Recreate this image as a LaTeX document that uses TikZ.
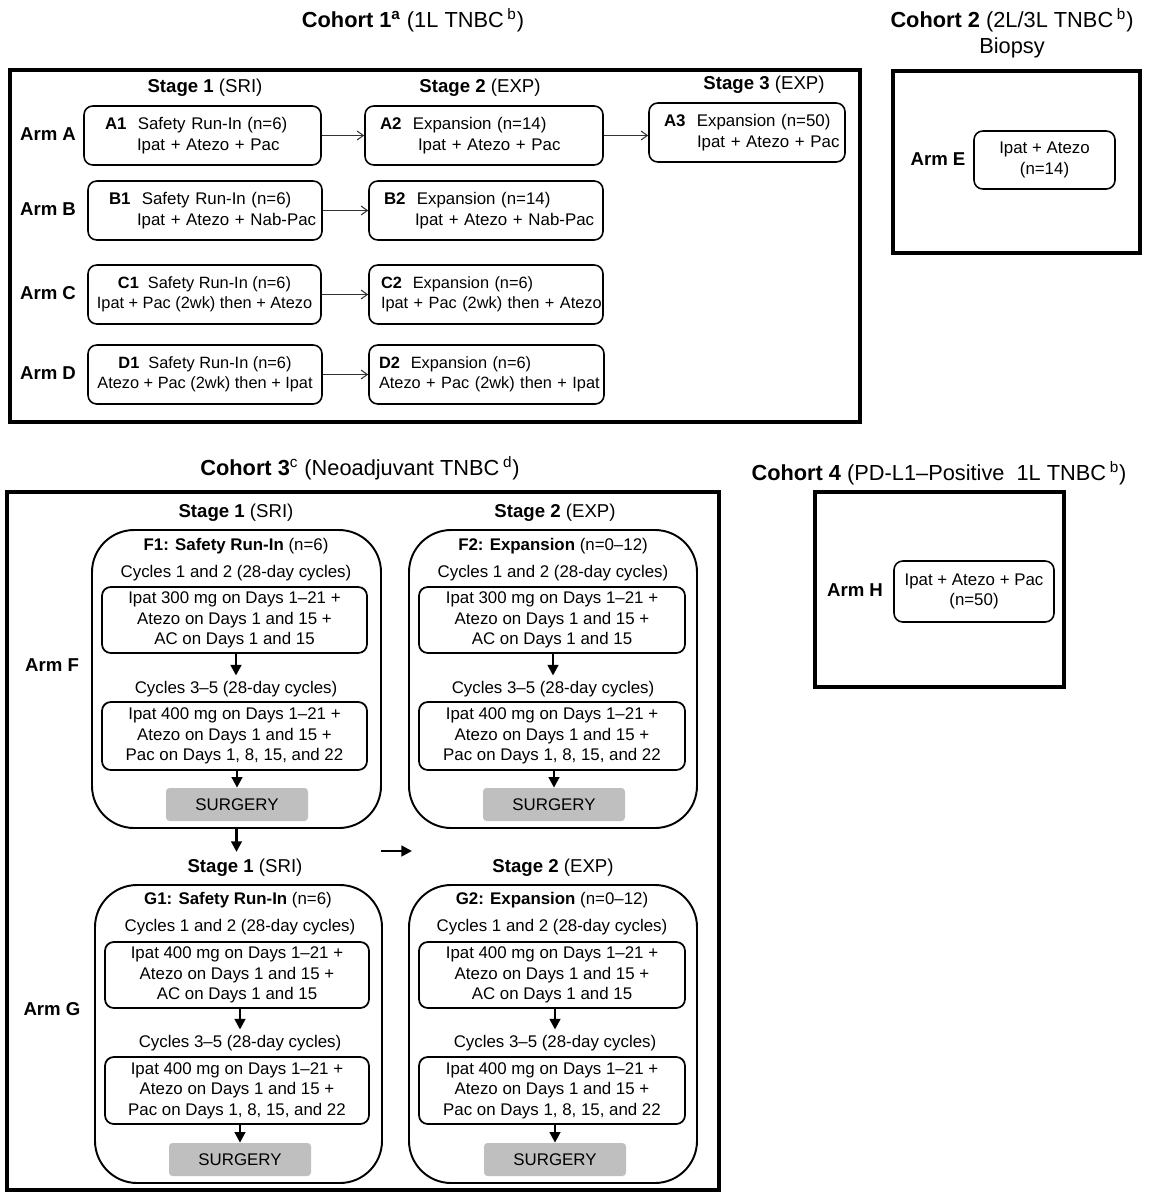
\documentclass[tikz,border=0pt]{standalone}
\usepackage{fontspec}
\setmainfont{Liberation Sans}
\usetikzlibrary{arrows.meta}
\definecolor{surggray}{HTML}{BFBFBF}
\def\u{0.02cm}
\begin{document}
\begin{tikzpicture}[x=0.02cm,y=-0.02cm,
  every node/.style={font=\fontsize{9.6}{11.6}\selectfont, inner sep=0pt, align=center},
  ttl/.style={font=\fontsize{12.4}{14}\selectfont},
  stagelbl/.style={font=\fontsize{10.6}{12}\selectfont},
  arm/.style={font=\fontsize{10.6}{12}\selectfont\bfseries},
  cohortbox/.style={draw, line width=2.2pt},
  sbox/.style={draw, rounded corners=5pt, line width=0.9pt},
  lbox/.style={sbox, align=left, inner ysep=0pt},
  bigbox/.style={draw, rounded corners=24pt, line width=1.1pt},
  inbox/.style={draw, rounded corners=5pt, line width=1pt},
  surg/.style={fill=surggray, rounded corners=2pt},
  thinarr/.style={-{Straight Barb[length=3.5pt,width=5pt]}, line width=0.6pt, draw=black!80},
  thkarr/.style={-{Triangle[length=6pt,width=6pt]}, line width=1.4pt},
]
\useasboundingbox (0,0) rectangle (1152,1193);

% ---------------- Cohort 1 ----------------
\node[ttl] (t1) at (413,20) {\textbf{Cohort 1}\textsuperscript{\textbf{a}} (1L TNBC\,\textsuperscript{b})};
\node[cohortbox, minimum width=850*\u, minimum height=352*\u] (c1) at (435,246) {};
\node[stagelbl] (s11) at (205,88) {\textbf{Stage 1} (SRI)};
\node[stagelbl] (s12) at (480,88) {\textbf{Stage 2} (EXP)};
\node[stagelbl] (s13) at (764,85) {\textbf{Stage 3} (EXP)};
\node[arm] (armA) at (48,134) {Arm A};
\node[arm] (armB) at (48,209) {Arm B};
\node[arm] (armC) at (48,293) {Arm C};
\node[arm] (armD) at (48,373) {Arm D};

\node[lbox, minimum width=237*\u, minimum height=59*\u, text width=3.90cm, inner xsep=0.42cm] (A1) at (202.5,135.5)
  {\mbox{\textbf{A1}\ \ Safety Run-In (n=6)}\\\mbox{\hspace*{0.64cm}Ipat + Atezo + Pac}};
\node[lbox, minimum width=238*\u, minimum height=59*\u, text width=4.16cm, inner xsep=0.30cm] (A2) at (484,135.5)
  {\mbox{\textbf{A2}\ \ Expansion (n=14)}\\\mbox{\hspace*{0.76cm}Ipat + Atezo + Pac}};
\node[lbox, minimum width=196*\u, minimum height=59*\u, text width=3.32cm, inner xsep=0.30cm] (A3) at (747,132.5)
  {\mbox{\textbf{A3}\ \ Expansion (n=50)}\\\mbox{\hspace*{0.66cm}Ipat + Atezo + Pac}};
\node[lbox, minimum width=234*\u, minimum height=59*\u, text width=3.84cm, inner xsep=0.42cm] (B1) at (205,210.5)
  {\mbox{\textbf{B1}\ \ Safety Run-In (n=6)}\\\mbox{\hspace*{0.56cm}Ipat + Atezo + Nab-Pac}};
\node[lbox, minimum width=234*\u, minimum height=59*\u, text width=4.08cm, inner xsep=0.30cm] (B2) at (486,210.5)
  {\mbox{\textbf{B2}\ \ Expansion (n=14)}\\\mbox{\hspace*{0.62cm}Ipat + Atezo + Nab-Pac}};
\node[sbox, minimum width=233*\u, minimum height=59*\u, font=\fontsize{9.3}{11.6}\selectfont] (C1) at (204.5,294.5)
  {\textbf{C1}\ \ Safety Run-In (n=6)\\Ipat + Pac (2wk) then + Atezo};
\node[lbox, minimum width=234*\u, minimum height=59*\u, text width=4.20cm, inner xsep=0.24cm, font=\fontsize{9.3}{11.6}\selectfont] (C2) at (486,294.5)
  {\mbox{\textbf{C2}\ \ Expansion (n=6)}\\\mbox{Ipat + Pac (2wk) then + Atezo}};
\node[sbox, minimum width=234*\u, minimum height=59*\u, font=\fontsize{9.3}{11.6}\selectfont] (D1) at (205,374.5)
  {\textbf{D1}\ \ Safety Run-In (n=6)\\Atezo + Pac (2wk) then + Ipat};
\node[lbox, minimum width=235*\u, minimum height=59*\u, text width=4.30cm, inner xsep=0.20cm, font=\fontsize{9.3}{11.6}\selectfont] (D2) at (486.5,374.5)
  {\mbox{\textbf{D2}\ \ Expansion (n=6)}\\\mbox{Atezo + Pac (2wk) then + Ipat}};

\draw[thinarr] (A1.east) -- (A2.west);
\draw[thinarr] (A2.east) -- (A2.east -| A3.west);
\draw[thinarr] (B1.east) -- (B2.west);
\draw[thinarr] (C1.east) -- (C2.west);
\draw[thinarr] (D1.east) -- (D2.west);

% ---------------- Cohort 2 ----------------
\node[ttl] (t2) at (1012,20) {\textbf{Cohort 2} (2L/3L TNBC\,\textsuperscript{b})};
\node[ttl] (t2b) at (1012,48) {Biopsy};
\node[cohortbox, minimum width=247*\u, minimum height=182*\u] (c2) at (1016.5,162) {};
\node[arm] (armE) at (938,159) {Arm E};
\node[sbox, minimum width=141*\u, minimum height=58*\u] (E) at (1044.5,160) {Ipat + Atezo\\(n=14)};

% ---------------- Cohort 3 ----------------
\node[ttl] (t3) at (360,468) {\textbf{Cohort 3}\textsuperscript{c} (Neoadjuvant TNBC\,\textsuperscript{d})};
\node[cohortbox, minimum width=712*\u, minimum height=698*\u] (c3) at (363,841) {};
\node[stagelbl] (s31) at (236,513) {\textbf{Stage 1} (SRI)};
\node[stagelbl] (s32) at (555,513) {\textbf{Stage 2} (EXP)};
\node[arm] (armF) at (52,665) {Arm F};

\node[bigbox, minimum width=289*\u, minimum height=298*\u] (F1) at (236.5,679) {};
\node[bigbox, minimum width=288*\u, minimum height=298*\u] (F2) at (553,679) {};

\node (F1t) at (236,546) {\textbf{F1: Safety Run-In} (n=6)};
\node (F1c1) at (236,573) {Cycles 1 and 2 (28-day cycles)};
\node[inbox, minimum width=265*\u, minimum height=66*\u] (F1a) at (234.5,620) {Ipat 300 mg on Days 1--21 +\\Atezo on Days 1 and 15 +\\AC on Days 1 and 15};
\node (F1c2) at (236,689) {Cycles 3--5 (28-day cycles)};
\node[inbox, minimum width=265*\u, minimum height=68*\u] (F1b) at (234.5,736) {Ipat 400 mg on Days 1--21 +\\Atezo on Days 1 and 15 +\\Pac on Days 1, 8, 15, and 22};
\node[surg, minimum width=142*\u, minimum height=33*\u] (F1s) at (237,804.5) {SURGERY};

\node (F2t) at (553,546) {\textbf{F2: Expansion} (n=0--12)};
\node (F2c1) at (553,573) {Cycles 1 and 2 (28-day cycles)};
\node[inbox, minimum width=266*\u, minimum height=66*\u] (F2a) at (552,620) {Ipat 300 mg on Days 1--21 +\\Atezo on Days 1 and 15 +\\AC on Days 1 and 15};
\node (F2c2) at (553,689) {Cycles 3--5 (28-day cycles)};
\node[inbox, minimum width=266*\u, minimum height=68*\u] (F2b) at (552,736) {Ipat 400 mg on Days 1--21 +\\Atezo on Days 1 and 15 +\\Pac on Days 1, 8, 15, and 22};
\node[surg, minimum width=142*\u, minimum height=33*\u] (F2s) at (554,804.5) {SURGERY};

\draw[thkarr] (F1a.south -| F1c2.north) -- ([yshift=3pt]F1c2.north);
\draw[thkarr] (F1b.south -| F1s.north) -- (F1s.north);
\draw[thkarr] (F2a.south -| F2c2.north) -- ([yshift=3pt]F2c2.north);
\draw[thkarr] (F2b.south -| F2s.north) -- (F2s.north);

\node[stagelbl] (s41) at (245,868) {\textbf{Stage 1} (SRI)};
\node[stagelbl] (s42) at (553,868) {\textbf{Stage 2} (EXP)};
\draw[thkarr] (F1.south) -- ([yshift=4pt]F1.south |- s41.north);
\coordinate (fa1) at (381,851);
\coordinate (fa2) at (412,851);
\draw[thkarr] (fa1) -- (fa2);

\node[arm] (armG) at (52,1009) {Arm G};
\node[bigbox, minimum width=287*\u, minimum height=298*\u] (G1) at (238.5,1034) {};
\node[bigbox, minimum width=288*\u, minimum height=298*\u] (G2) at (553,1034) {};

\node (G1t) at (238,900) {\textbf{G1: Safety Run-In} (n=6)};
\node (G1c1) at (240,927) {Cycles 1 and 2 (28-day cycles)};
\node[inbox, minimum width=264*\u, minimum height=66*\u] (G1a) at (237,975) {Ipat 400 mg on Days 1--21 +\\Atezo on Days 1 and 15 +\\AC on Days 1 and 15};
\node (G1c2) at (240,1043) {Cycles 3--5 (28-day cycles)};
\node[inbox, minimum width=264*\u, minimum height=67*\u] (G1b) at (237,1090.5) {Ipat 400 mg on Days 1--21 +\\Atezo on Days 1 and 15 +\\Pac on Days 1, 8, 15, and 22};
\node[surg, minimum width=142*\u, minimum height=33*\u] (G1s) at (240,1159.5) {SURGERY};

\node (G2t) at (552,900) {\textbf{G2: Expansion} (n=0--12)};
\node (G2c1) at (552,927) {Cycles 1 and 2 (28-day cycles)};
\node[inbox, minimum width=266*\u, minimum height=66*\u] (G2a) at (552,975) {Ipat 400 mg on Days 1--21 +\\Atezo on Days 1 and 15 +\\AC on Days 1 and 15};
\node (G2c2) at (555,1043) {Cycles 3--5 (28-day cycles)};
\node[inbox, minimum width=266*\u, minimum height=67*\u] (G2b) at (552,1090.5) {Ipat 400 mg on Days 1--21 +\\Atezo on Days 1 and 15 +\\Pac on Days 1, 8, 15, and 22};
\node[surg, minimum width=142*\u, minimum height=33*\u] (G2s) at (555,1159.5) {SURGERY};

\draw[thkarr] (G1a.south -| G1c2.north) -- ([yshift=3pt]G1c2.north);
\draw[thkarr] (G1b.south -| G1s.north) -- (G1s.north);
\draw[thkarr] (G2a.south -| G2c2.north) -- ([yshift=3pt]G2c2.north);
\draw[thkarr] (G2b.south -| G2s.north) -- (G2s.north);

% ---------------- Cohort 4 ----------------
\node[ttl] (t4) at (939,473) {\textbf{Cohort 4} (PD-L1--Positive\ \ 1L TNBC\,\textsuperscript{b})};
\node[cohortbox, minimum width=249*\u, minimum height=195*\u] (c4) at (939.5,589.5) {};
\node[arm] (armH) at (855,590) {Arm H};
\node[sbox, minimum width=160*\u, minimum height=61*\u] (H) at (974,591.5) {Ipat + Atezo + Pac\\(n=50)};
\end{tikzpicture}
\end{document}
